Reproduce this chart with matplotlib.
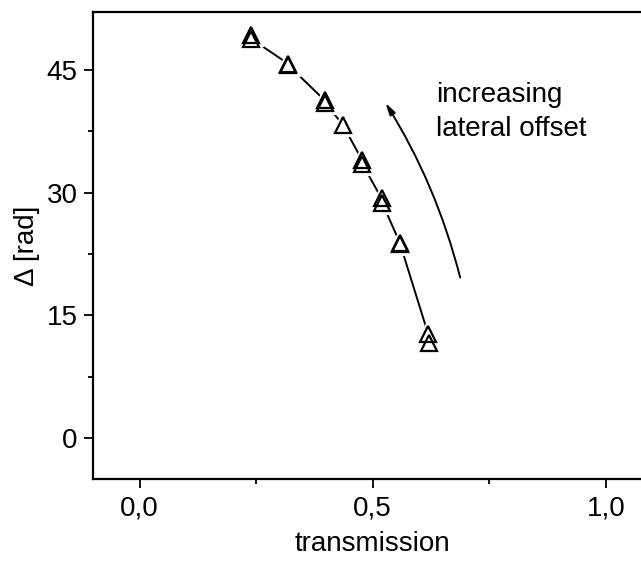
import matplotlib.pyplot as plt
from matplotlib.ticker import FixedLocator, MultipleLocator, FuncFormatter

plt.rcParams["font.family"] = ["Liberation Sans", "DejaVu Sans"]

# measured points (transmission, phase difference), pairs overlap in the plot
transmission = [0.238, 0.240, 0.318, 0.319, 0.397, 0.398, 0.436,
                0.477, 0.478, 0.519, 0.520, 0.558, 0.559, 0.619, 0.620]
delta = [49.3, 48.8, 45.8, 45.6, 41.3, 41.0, 38.3,
         34.0, 33.5, 29.3, 28.8, 23.9, 23.7, 12.7, 11.6]

fig = plt.figure(figsize=(6.41, 5.61), dpi=100)
ax = fig.add_axes([0.145, 0.1462, 0.873, 0.8324])

ax.plot(transmission, delta, "-", color="black", lw=1.4, zorder=2)
# white halo so the line stops short of the symbols
ax.plot(transmission, delta, "^", ms=15, mfc="white", mec="white", mew=3, zorder=3)
ax.plot(transmission, delta, "^", ms=12, mfc="none", mec="black", mew=1.6, zorder=4)

ax.annotate("", xy=(0.524, 41.3), xytext=(0.689, 19.3),
            arrowprops=dict(arrowstyle="-|>,head_length=0.7,head_width=0.18",
                            color="black", lw=1.4,
                            connectionstyle="arc3,rad=0.08"))
ax.text(0.636, 39.9, "increasing\nlateral offset", fontsize=20,
        ha="left", va="center", linespacing=1.42)

ax.set_xlim(-0.1, 1.1)
ax.set_ylim(-5, 52.1)
ax.xaxis.set_major_locator(FixedLocator([0.0, 0.5, 1.0]))
ax.xaxis.set_minor_locator(MultipleLocator(0.25))
ax.yaxis.set_major_locator(FixedLocator([0, 15, 30, 45]))
ax.yaxis.set_minor_locator(MultipleLocator(7.5))
ax.xaxis.set_major_formatter(FuncFormatter(lambda v, p: f"{v:.1f}".replace(".", ",")))

ax.tick_params(which="major", direction="out", length=6.5, width=1.3,
               labelsize=20, top=False, right=False)
ax.tick_params(axis="x", which="major", pad=5.5)
ax.tick_params(axis="y", which="major", pad=4.5)
ax.tick_params(which="minor", direction="out", length=3.5, width=1.3,
               top=False, right=False)
for s in ax.spines.values():
    s.set_linewidth(1.6)

ax.set_xlabel("transmission", fontsize=20, labelpad=7)
ax.set_ylabel("Δ [rad]", fontsize=20, labelpad=5)

fig.savefig("out.png", dpi=100)
